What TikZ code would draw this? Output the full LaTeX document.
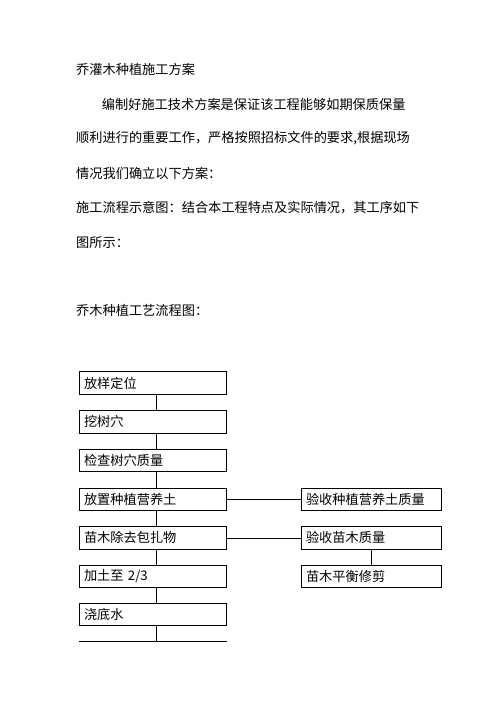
\documentclass[tikz,border=0pt]{standalone}
\usepackage{fontspec}
\newfontfamily\cjk{Noto Sans CJK SC}
\begin{document}
\begin{tikzpicture}[x=1pt,y=-1pt,
  txt/.style={anchor=west,inner sep=0pt,font=\cjk\fontsize{13.2}{15}\selectfont},
  stepbox/.style={draw,line width=0.8pt,minimum height=22.5pt,inner xsep=5pt,inner ysep=0pt,align=left,anchor=center,font=\cjk\fontsize{13.2}{15}\selectfont},
  leftbox/.style={stepbox,minimum width=147.5pt,text width=137.5pt},
  rightbox/.style={stepbox,minimum width=140.7pt,text width=130.7pt},
  conn/.style={line width=0.8pt}]
\useasboundingbox (0,0) rectangle (496,702);
% text
\node[txt] (t1) at (76,69) {乔灌木种植施工方案};
\node[txt] (t2) at (101.7,104) {编制好施工技术方案是保证该工程能够如期保质保量};
\node[txt] (t3) at (76,138) {顺利进行的重要工作，严格按照招标文件的要求,根据现场};
\node[txt] (t4) at (76,173) {情况我们确立以下方案：};
\node[txt] (t5) at (76,208) {施工流程示意图：结合本工程特点及实际情况，其工序如下};
\node[txt] (t6) at (76,243) {图所示：};
\node[txt] (t7) at (76,310.7) {乔木种植工艺流程图：};
% left column
\node[leftbox] (b1) at (152.75,383) {放样定位};
\node[leftbox] (b2) at (152.75,421.7) {挖树穴};
\node[leftbox] (b3) at (152.75,460.3) {检查树穴质量};
\node[leftbox] (b4) at (152.75,499.3) {放置种植营养土};
\node[leftbox] (b5) at (152.75,537.9) {苗木除去包扎物};
\node[leftbox] (b6) at (152.75,576.4) {加土至 2/3};
\node[leftbox] (b7) at (152.75,614.4) {浇底水};
% right column
\node[rightbox] (r1) at (371.35,499.3) {验收种植营养土质量};
\node[rightbox] (r2) at (371.35,537.9) {验收苗木质量};
\node[rightbox] (r3) at (371.35,576.4) {苗木平衡修剪};
% connectors
\coordinate (cx) at (156,0);
\coordinate (endL) at (79,641.7);
\coordinate (endR) at (226.7,641.7);
\draw[conn] (b1.south -| cx) -- (b2.north -| cx);
\draw[conn] (b2.south -| cx) -- (b3.north -| cx);
\draw[conn] (b3.south -| cx) -- (b4.north -| cx);
\draw[conn] (b4.south -| cx) -- (b5.north -| cx);
\draw[conn] (b5.south -| cx) -- (b6.north -| cx);
\draw[conn] (b6.south -| cx) -- (b7.north -| cx);
\draw[conn] (b7.south -| cx) -- (endL -| cx);
\draw[conn] (endL) -- (endR);
\draw[conn] (b4.east) -- (r1.west);
\draw[conn] (b5.east) -- (r2.west);
\draw[conn] (r2.south) -- (r3.north);
\end{tikzpicture}
\end{document}
